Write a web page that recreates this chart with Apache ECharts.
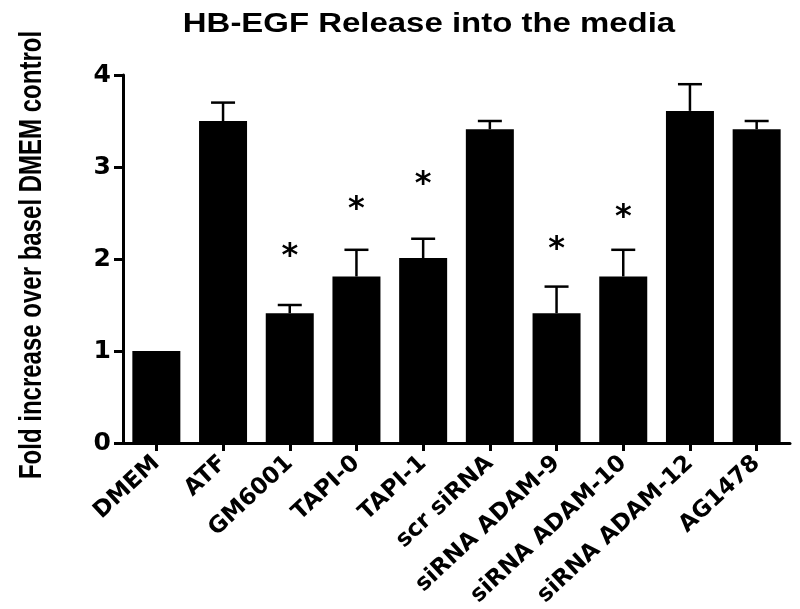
<!DOCTYPE html>
<html>
<head>
<meta charset="utf-8">
<script src="https://cdn.jsdelivr.net/npm/echarts@6/dist/echarts.min.js"></script>
<style>
html,body{margin:0;padding:0;background:#fff;}
#chart{width:800px;height:609px;}
</style>
</head>
<body>
<div id="chart"></div>
<script>
const titleText = 'HB-EGF Release into the media';
const yAxisTitle = 'Fold increase over basel DMEM control';
const categories = ['DMEM','ATF','GM6001','TAPI-0','TAPI-1','scr siRNA','siRNA ADAM-9','siRNA ADAM-10','siRNA ADAM-12','AG1478'];
const means = [1.0, 3.5, 1.41, 1.81, 2.01, 3.41, 1.41, 1.81, 3.61, 3.41];
const errors = [0, 0.2, 0.09, 0.29, 0.21, 0.09, 0.29, 0.29, 0.29, 0.09];
const starPositions = [null, null, 2.11, 2.62, 2.89, null, 2.19, 2.54, null, null];
const yMin = 0, yMax = 4, yInterval = 1;

const chart = echarts.init(document.getElementById('chart'), null, {renderer: 'canvas'});

const errData = means.map((m, i) => [i, m, m + errors[i]]).filter(d => d[2] > d[1]);
const starData = starPositions.map((v, i) => [i, v]).filter(d => d[1] !== null);

const option = {
  animation: false,
  backgroundColor: '#fff',
  grid: {left: 123, right: 10, top: 75, bottom: 166, containLabel: false, outerBoundsMode: 'none'},
  graphic: [
    {
      type: 'text', x: 429, y: 25, scaleX: 1.22,
      style: {text: titleText, font: 'bold 27px "Liberation Sans", Arial, sans-serif', fill: '#000',
        align: 'center', verticalAlign: 'middle', textAlign: 'center', textVerticalAlign: 'middle'}
    },
    {
      type: 'text', x: 32, y: 255, rotation: Math.PI / 2, scaleY: 1.3,
      style: {text: yAxisTitle, font: 'bold 24px "Liberation Sans", Arial, sans-serif', fill: '#000',
        align: 'center', verticalAlign: 'middle', textAlign: 'center', textVerticalAlign: 'middle'}
    }
  ],
  xAxis: {
    type: 'category',
    data: categories,
    axisLine: {lineStyle: {color: '#000', width: 3}},
    axisTick: {show: true, alignWithLabel: true, length: 8, lineStyle: {color: '#000', width: 3}},
    axisLabel: {interval: 0, rotate: 43, margin: 17, color: '#000', fontWeight: 'bold',
      fontSize: 23, fontFamily: 'DejaVu Sans'},
    splitLine: {show: false}
  },
  yAxis: {
    type: 'value',
    min: yMin, max: yMax, interval: yInterval,
    axisLine: {show: true, lineStyle: {color: '#000', width: 3}},
    axisTick: {show: true, length: 9, lineStyle: {color: '#000', width: 3}},
    axisLabel: {margin: 12, color: '#000', fontWeight: 'bold', fontSize: 25, fontFamily: 'DejaVu Sans'},
    splitLine: {show: false}
  },
  series: [
    {
      type: 'bar',
      data: means,
      barWidth: 48,
      itemStyle: {color: '#000'},
      z: 2
    },
    {
      type: 'custom',
      data: errData,
      z: 1,
      renderItem: function (params, api) {
        const base = api.coord([api.value(0), api.value(1)]);
        const top = api.coord([api.value(0), api.value(2)]);
        const half = 12;
        const st = {stroke: '#000', lineWidth: 2.5};
        return {
          type: 'group',
          children: [
            {type: 'line', shape: {x1: base[0], y1: base[1], x2: top[0], y2: top[1]}, style: st},
            {type: 'line', shape: {x1: top[0] - half, y1: top[1], x2: top[0] + half, y2: top[1]}, style: st}
          ]
        };
      }
    },
    {
      type: 'custom',
      data: starData,
      z: 3,
      renderItem: function (params, api) {
        const p = api.coord([api.value(0), api.value(1)]);
        return {
          type: 'text', x: p[0], y: p[1] + 8,
          style: {text: '*', font: 'bold 32px "DejaVu Sans", sans-serif', fill: '#000',
            align: 'center', verticalAlign: 'middle', textAlign: 'center', textVerticalAlign: 'middle'}
        };
      }
    }
  ]
};
chart.setOption(option);
</script>
</body>
</html>
